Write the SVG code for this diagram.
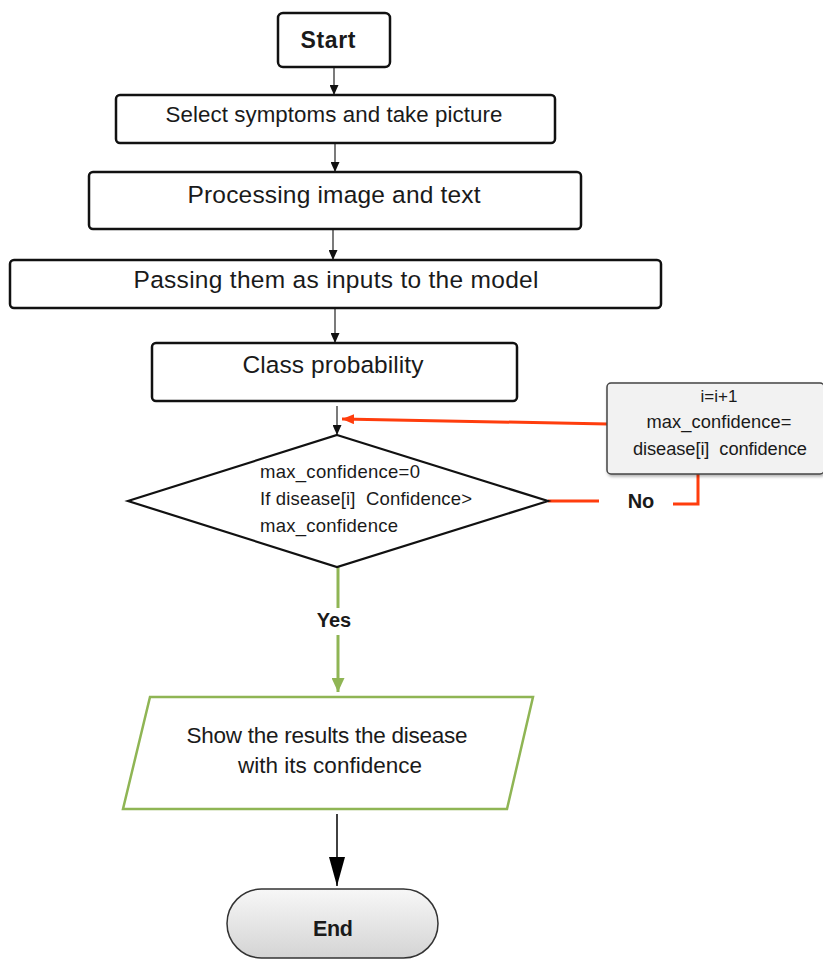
<svg xmlns="http://www.w3.org/2000/svg" width="823" height="962" viewBox="0 0 823 962">
<style>
text{font-family:"Liberation Sans",Arial,sans-serif;fill:#1a1a1a}
.b{font-weight:bold}
.box{fill:#fff;stroke:#111;stroke-width:2.5}
.ln{stroke:#333;stroke-width:1.3;fill:none}
.red{stroke:#ff3d0d;stroke-width:3;fill:none}
.grn{stroke:#8fb554;stroke-width:3;fill:none}
</style>
<defs>
<marker id="ah" markerUnits="userSpaceOnUse" markerWidth="10" markerHeight="9" refX="10" refY="4.5" orient="auto"><path d="M0,0 L10,4.5 L0,9 z" fill="#111"/></marker>
<marker id="ahBig" markerUnits="userSpaceOnUse" markerWidth="29" markerHeight="16" refX="29" refY="8" orient="auto"><path d="M0,0 L29,8 L0,16 z" fill="#000"/></marker>
<marker id="ahRed" markerUnits="userSpaceOnUse" markerWidth="12" markerHeight="10" refX="12" refY="5" orient="auto"><path d="M0,0 L12,5 L0,10 z" fill="#ff3d0d"/></marker>
<marker id="ahGrn" markerUnits="userSpaceOnUse" markerWidth="14" markerHeight="13" refX="14" refY="6.5" orient="auto"><path d="M0,0 L14,6.5 L0,13 z" fill="#8fb554"/></marker>
<linearGradient id="gEnd" x1="0" y1="0" x2="0" y2="1"><stop offset="0" stop-color="#f7f7f7"/><stop offset="1" stop-color="#d4d4d4"/></linearGradient>
<filter id="sh" x="-10%" y="-10%" width="130%" height="140%"><feDropShadow dx="1" dy="2" stdDeviation="1.5" flood-color="#000" flood-opacity="0.3"/></filter>
</defs>

<g id="connectors">
<line class="ln" x1="334" y1="67" x2="334" y2="95" marker-end="url(#ah)"/>
<line class="ln" x1="335" y1="143" x2="335" y2="172" marker-end="url(#ah)"/>
<line class="ln" x1="333" y1="229" x2="333" y2="260" marker-end="url(#ah)"/>
<line class="ln" x1="335" y1="309" x2="335" y2="343" marker-end="url(#ah)"/>
<line class="ln" x1="337" y1="406" x2="337" y2="435" marker-end="url(#ah)"/>
<line class="red" x1="608" y1="424" x2="342" y2="419" marker-end="url(#ahRed)"/>
<line class="red" x1="548" y1="501" x2="599" y2="501"/>
<polyline class="red" points="673,504 698,504 698,474"/>
<line class="grn" x1="338" y1="567" x2="338" y2="608"/>
<line class="grn" x1="338" y1="635" x2="338" y2="692" marker-end="url(#ahGrn)"/>
<line x1="337" y1="814" x2="337" y2="886" stroke="#111" stroke-width="1.6" marker-end="url(#ahBig)"/>
<text class="b" x="641" y="508" font-size="20" text-anchor="middle">No</text>
<text class="b" x="334" y="627" font-size="20" text-anchor="middle">Yes</text>
</g>

<g id="start">
<rect class="box" x="278" y="13" width="112" height="54" rx="5"/>
<text class="b" x="328" y="48" font-size="23" text-anchor="middle" textLength="55">Start</text>
</g>

<g id="select">
<rect class="box" x="116" y="95" width="439" height="48" rx="4"/>
<text x="334" y="122" font-size="22.3" text-anchor="middle" textLength="337">Select symptoms and take picture</text>
</g>

<g id="processing">
<rect class="box" x="89" y="172" width="492" height="57" rx="4"/>
<text x="334" y="203" font-size="24.5" text-anchor="middle" textLength="293">Processing image and text</text>
</g>

<g id="passing">
<rect class="box" x="10" y="260" width="651" height="48" rx="4"/>
<text x="336" y="288" font-size="24.5" text-anchor="middle" textLength="405">Passing them as inputs to the model</text>
</g>

<g id="class">
<rect class="box" x="152" y="343" width="365" height="58" rx="4"/>
<text x="333" y="373" font-size="24.5" text-anchor="middle" textLength="181">Class probability</text>
</g>

<g id="decision">
<polygon points="337,435 548,501 337,567 128,501" fill="#fff" stroke="#111" stroke-width="2.2"/>
<text x="260" y="478" font-size="18.5" textLength="160">max_confidence=0</text>
<text x="260" y="505" font-size="18.5" textLength="212" xml:space="preserve">If disease[i]  Confidence&gt;</text>
<text x="260" y="532" font-size="18.5" textLength="138">max_confidence</text>
</g>

<g id="update">
<rect x="607" y="383" width="217" height="91" rx="4" fill="#f2f2f2" stroke="#444" stroke-width="1.5" filter="url(#sh)"/>
<text x="719" y="402" font-size="17" text-anchor="middle" textLength="37">i=i+1</text>
<text x="719" y="428" font-size="18.3" text-anchor="middle" textLength="145">max_confidence=</text>
<text x="720" y="455" font-size="18.3" text-anchor="middle" textLength="174" xml:space="preserve">disease[i]  confidence</text>
</g>

<g id="show">
<polygon points="150,697 533,697 507,809 123,809" fill="#fff" stroke="#8fb554" stroke-width="2.5"/>
<text x="327" y="743" font-size="22.5" text-anchor="middle" textLength="281">Show the results the disease</text>
<text x="330" y="773" font-size="22.5" text-anchor="middle" textLength="184">with its confidence</text>
</g>

<g id="end">
<rect x="227" y="889" width="211" height="69" rx="34.5" fill="url(#gEnd)" stroke="#333" stroke-width="1.5"/>
<text class="b" x="333" y="936" font-size="21.5" text-anchor="middle" textLength="40">End</text>
</g>
</svg>
